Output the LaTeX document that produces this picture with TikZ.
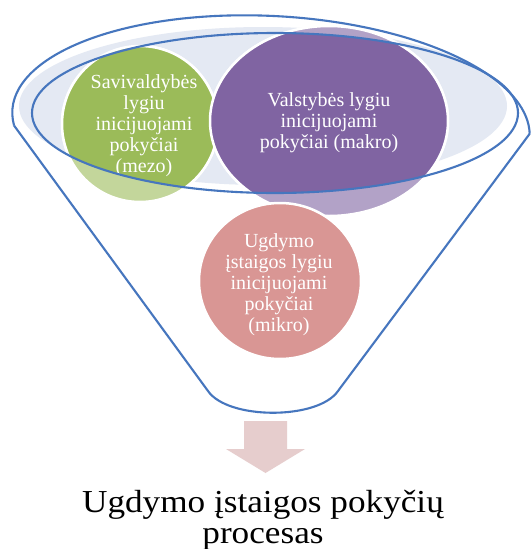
\documentclass[tikz,border=0pt]{standalone}
\usepackage{fontspec}
\setmainfont{Liberation Serif}
\newfontfamily\widefont[FakeStretch=1.1]{Liberation Serif}
\usetikzlibrary{calc}
\definecolor{fline}{RGB}{70,118,190}
\definecolor{rimfill}{RGB}{228,233,243}
\definecolor{greenfull}{RGB}{155,187,89}
\definecolor{greenlight}{RGB}{195,214,155}
\definecolor{purplefull}{RGB}{128,100,162}
\definecolor{purplelight}{RGB}{178,162,199}
\definecolor{pinkfull}{RGB}{217,150,148}
\definecolor{arrowfill}{RGB}{230,205,205}
\begin{document}
\begin{tikzpicture}[x=1pt,y=1pt,
  funnelline/.style={draw=fline, line width=2.1pt, line join=round},
  bubble/.style={draw=white, line width=2.5pt},
  bubbletext/.style={text=white, align=center, font=\fontsize{20}{21}\selectfont, inner sep=0pt},
  bottomtext/.style={text=black, align=center, font=\widefont\fontsize{32}{31}\selectfont, inner sep=0pt}]
\useasboundingbox (0,0) rectangle (531,-549);
\fill[white] (0,0) rectangle (531,-549);

% top rim fill
\fill[rimfill] (263,-106) ellipse [x radius=244, y radius=79];

% bubbles, light parts
\path[bubble, fill=greenlight] (140,-124) ellipse [x radius=78, y radius=78];
\path[bubble, fill=purplelight] (329,-121) ellipse [x radius=119, y radius=95];
% bubbles, parts inside the inner ellipse
\begin{scope}
  \clip (275,-113) ellipse [x radius=243, y radius=80];
  \path[bubble, fill=greenfull] (140,-124) ellipse [x radius=78, y radius=78];
  \path[bubble, fill=purplefull] (329,-121) ellipse [x radius=119, y radius=95];
\end{scope}
\path[bubble, fill=pinkfull] (280,-281) ellipse [x radius=81, y radius=78];

% texts
\node[bubbletext] (mezo) at (144,-126) {Savivaldybės\\lygiu\\inicijuojami\\pokyčiai\\(mezo)};
\node[bubbletext] (makro) at (329,-123) {Valstybės lygiu\\inicijuojami\\pokyčiai (makro)};
\node[bubbletext] (mikro) at (279,-285) {Ugdymo\\įstaigos lygiu\\inicijuojami\\pokyčiai\\(mikro)};

% funnel outline
\begin{scope}[shift={(271,-124)}, rotate=-3]
  \coordinate (oL) at (188:259 and 108);
  \coordinate (oR) at (2:259 and 108);
  \draw[funnelline] (oL) arc[start angle=188, end angle=2, x radius=259, y radius=108];
\end{scope}
\coordinate (bL) at (208,-391);
\coordinate (bR) at (338,-391);
\draw[funnelline] (oL) -- (bL) .. controls (228,-420) and (318,-420) .. (bR) -- (oR);
\draw[funnelline] (275,-113) ellipse [x radius=243, y radius=80];

% block arrow
\fill[arrowfill] (244,-421) -- (287,-421) -- (287,-449) -- (305,-449) -- (265.5,-473) -- (226,-449) -- (244,-449) -- cycle;

\node[bottomtext] (proc) at (263,-520) {Ugdymo įstaigos pokyčių\\procesas};
\end{tikzpicture}
\end{document}
